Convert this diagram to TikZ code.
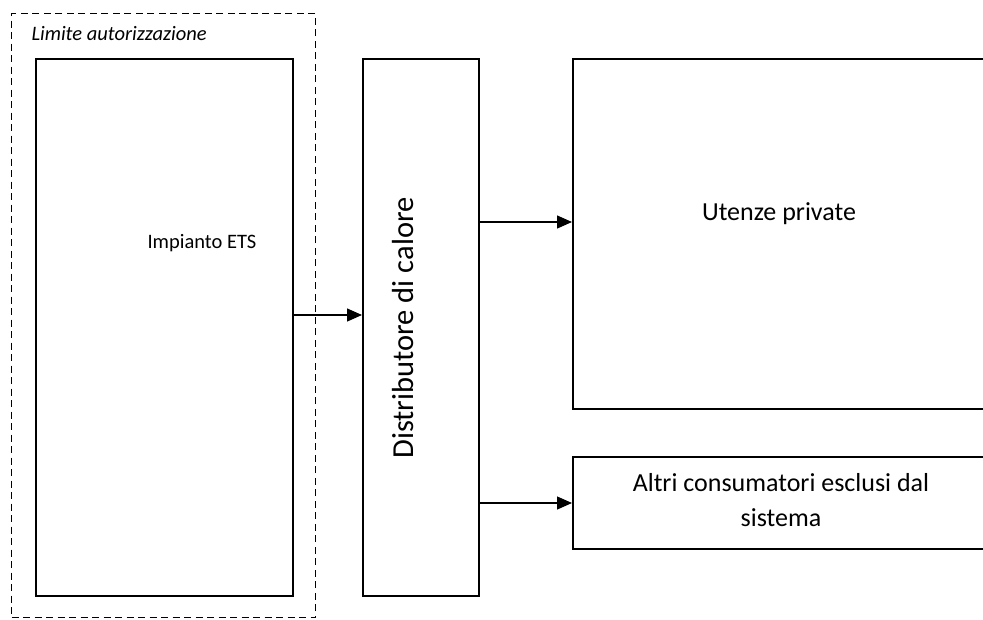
\documentclass[tikz,border=0pt]{standalone}
\usepackage{fontspec}
\setmainfont{Carlito}
\usetikzlibrary{positioning, arrows.meta}

\begin{document}
\begin{tikzpicture}[x=1pt,y=-1pt,
    every node/.style={font=\fontsize{26}{35}\selectfont},
    box/.style={draw, line width=1.6pt, inner sep=0pt, anchor=north west},
    flow/.style={-{Triangle[length=15pt,width=13pt]}, line width=1.3pt}]
    \useasboundingbox (0,0) rectangle (983,619);
    \clip (0,0) rectangle (983,619);
    % authorisation limit
    \node[box, dashed, line width=1.3pt, dash pattern=on 7pt off 4.5pt,
          minimum width=304pt, minimum height=604pt] (limite) at (11,13) {};
    \node[anchor=west, font=\fontsize{20.5}{24}\selectfont\itshape] (limitelabel) at (28,34) {Limite autorizzazione};
    \node[box, minimum width=257pt, minimum height=537pt] (ets) at (35,58) {};
    \node[font=\fontsize{20.5}{24}\selectfont] (etslabel) at (202,243) {Impianto ETS};
    \node[box, minimum width=116pt, minimum height=537pt] (dist) at (362,58) {};
    \node[rotate=90, font=\fontsize{30.5}{36}\selectfont] (distlabel) at (403,328) {Distributore di calore};
    \node[box, minimum width=500pt, minimum height=350pt] (utenze) at (572,58) {};
    \node (utenzelabel) at (779,214) {Utenze private};
    \node[box, minimum width=500pt, minimum height=92pt] (altri) at (572,456) {};
    \node[align=center] (altrilabel) at (781,500) {Altri consumatori esclusi dal\\sistema};
    % flows
    \draw[flow] (ets.east |- 0,315) -- (dist.west |- 0,315);
    \draw[flow] (dist.east |- 0,222) -- (utenze.west |- 0,222);
    \draw[flow] (dist.east |- 0,503) -- (altri.west |- 0,503);
\end{tikzpicture}
\end{document}
